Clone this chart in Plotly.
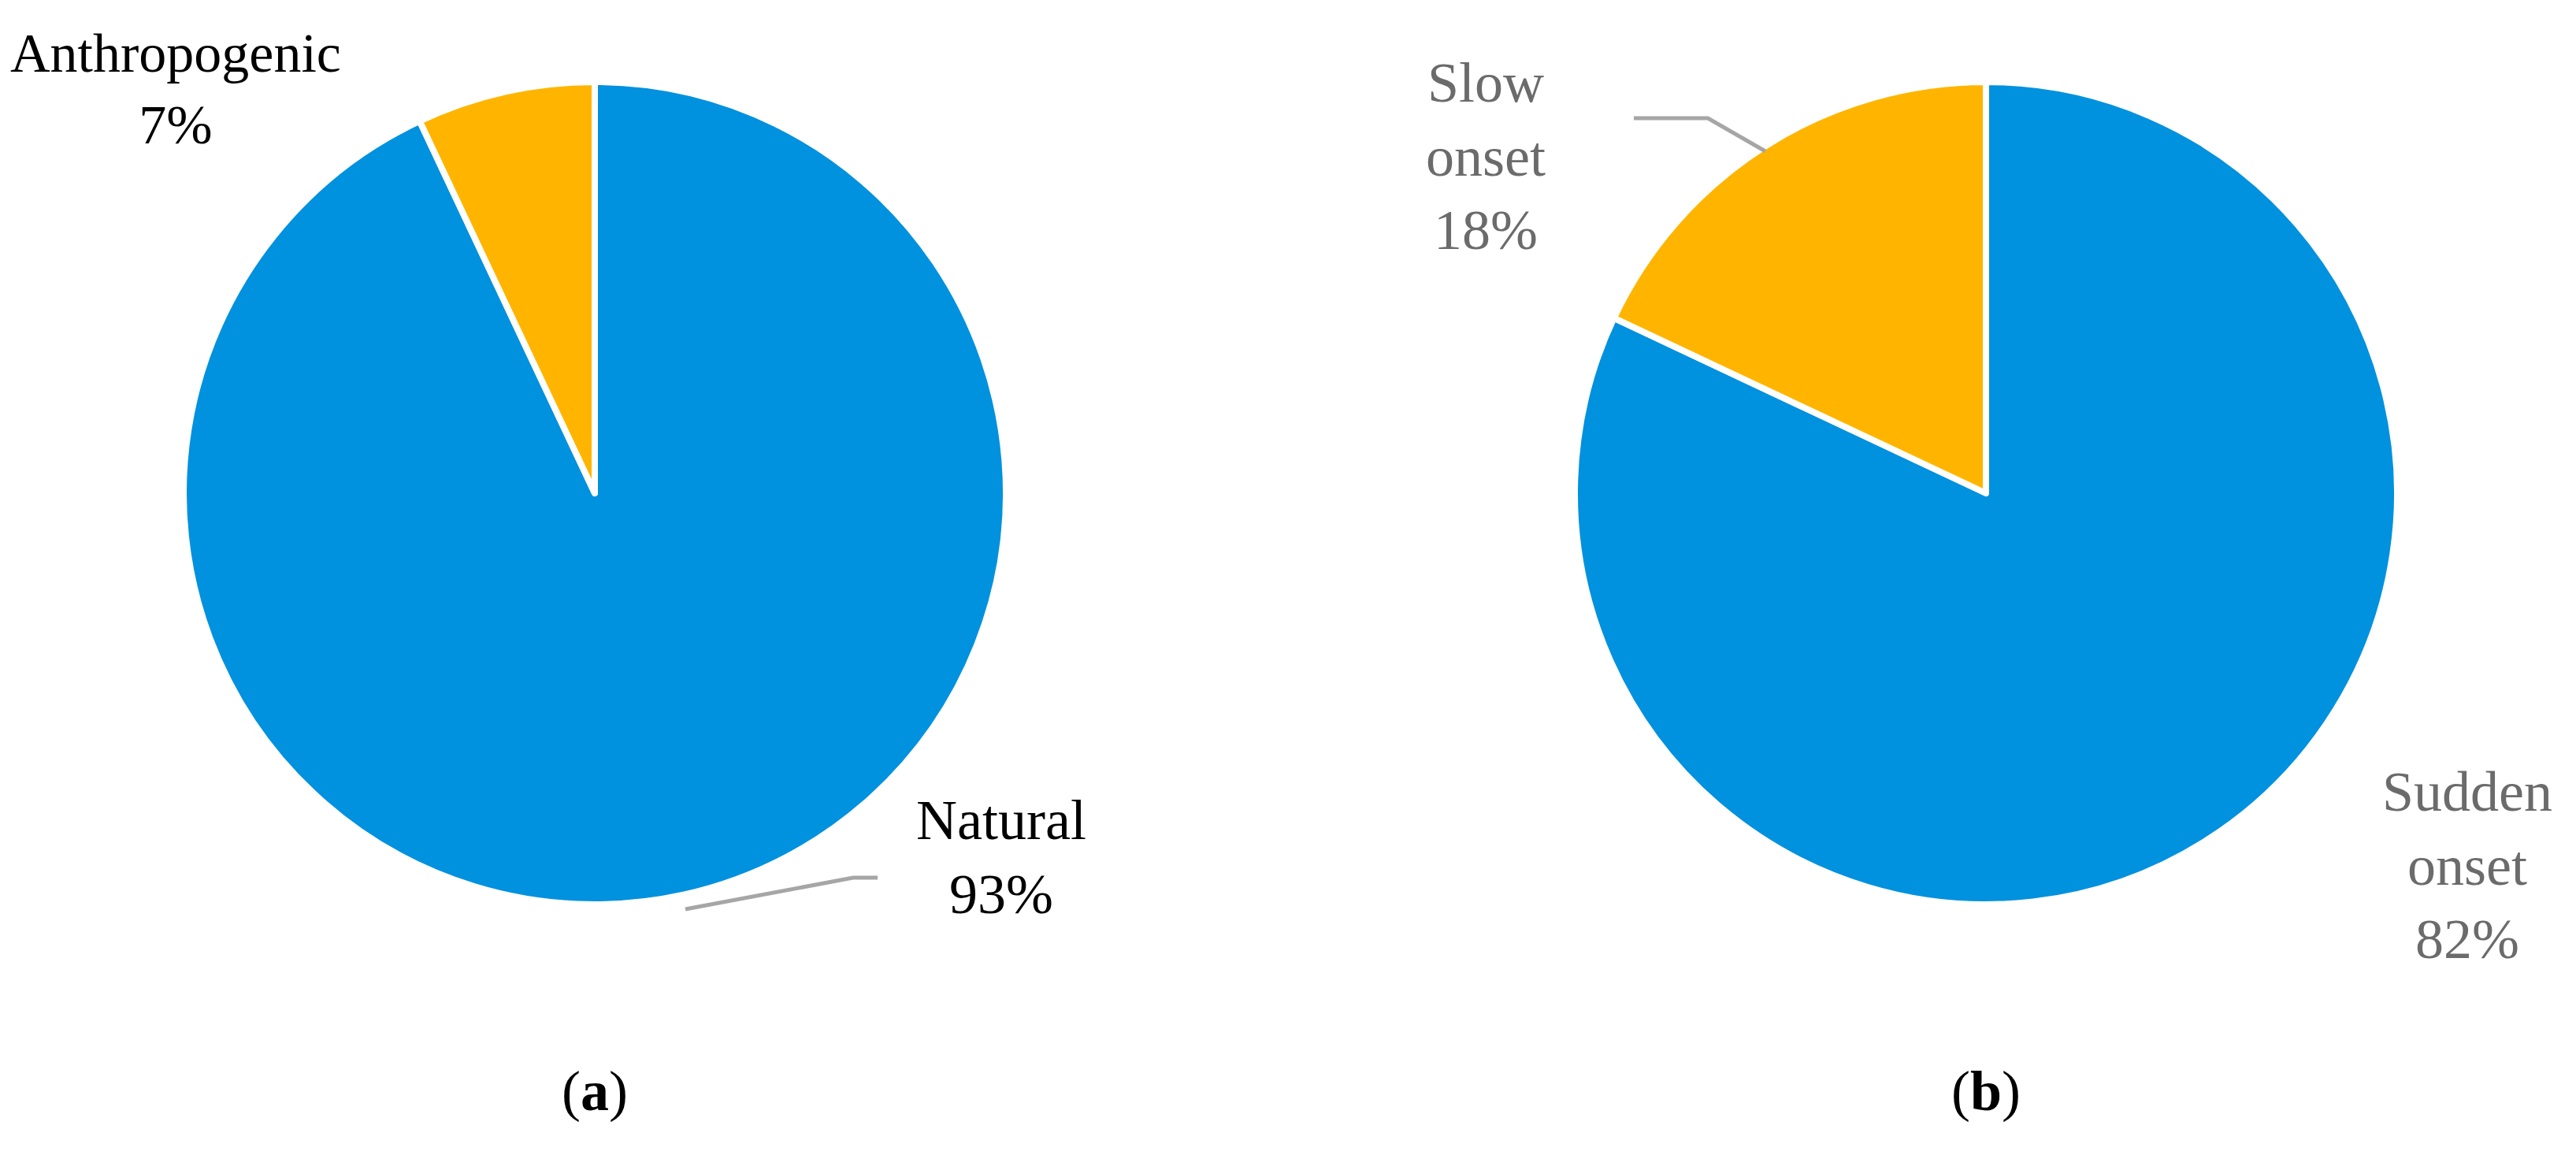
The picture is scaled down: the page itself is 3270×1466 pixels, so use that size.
import plotly.graph_objects as go

labels_a = ["Natural", "Anthropogenic"]
values_a = [93, 7]
labels_b = ["Sudden onset", "Slow onset"]
values_b = [82, 18]
colors = ["#0091DF", "#FFB500"]

W, H = 3270, 1466
def px(x): return x / W
def py(y): return 1 - y / H

fig = go.Figure()
fig.add_trace(go.Pie(labels=labels_a, values=values_a, sort=False, direction="clockwise",
                     rotation=0, textinfo="none", hoverinfo="label+percent",
                     marker=dict(colors=colors, line=dict(color="white", width=8)),
                     domain=dict(x=[px(225), px(1269)], y=[py(1140), py(96)])))
fig.add_trace(go.Pie(labels=labels_b, values=values_b, sort=False, direction="clockwise",
                     rotation=0, textinfo="none", hoverinfo="label+percent",
                     marker=dict(colors=colors, line=dict(color="white", width=8)),
                     domain=dict(x=[px(1991), px(3035)], y=[py(1140), py(96)])))

font = "Liberation Serif, DejaVu Serif, serif"
def ann(x, y, text, color, size=72):
    fig.add_annotation(x=px(x), y=py(y), xref="paper", yref="paper", text=text,
                       showarrow=False, font=dict(family=font, size=size, color=color),
                       xanchor="center", yanchor="middle")

ann(215, 105, f"{labels_a[1]}<br>{values_a[1]}%", "#000000", 70)
ann(1263, 1080, f"{labels_a[0]}<br>{values_a[0]}%", "#000000")
ann(1878, 190, f"Slow<br>onset<br>{values_b[1]}%", "#6b6b6b")
ann(3124, 1090, f"Sudden<br>onset<br>{values_b[0]}%", "#6b6b6b")
ann(747, 1377, "(<b>a</b>)", "#000000")
ann(2513, 1377, "(<b>b</b>)", "#000000")

def leader(pts):
    path = "M " + " L ".join(f"{px(x)} {py(y)}" for x, y in pts)
    fig.add_shape(type="path", path=path, xref="paper", yref="paper",
                  line=dict(color="#a6a6a6", width=5))

leader([(862, 1146), (1075, 1106), (1106, 1106)])
leader([(2066, 142), (2160, 142), (2233, 184)])

fig.update_layout(width=W, height=H, margin=dict(l=0, r=0, t=0, b=0),
                  showlegend=False, paper_bgcolor="white", plot_bgcolor="white")
fig.write_html("out.html")
